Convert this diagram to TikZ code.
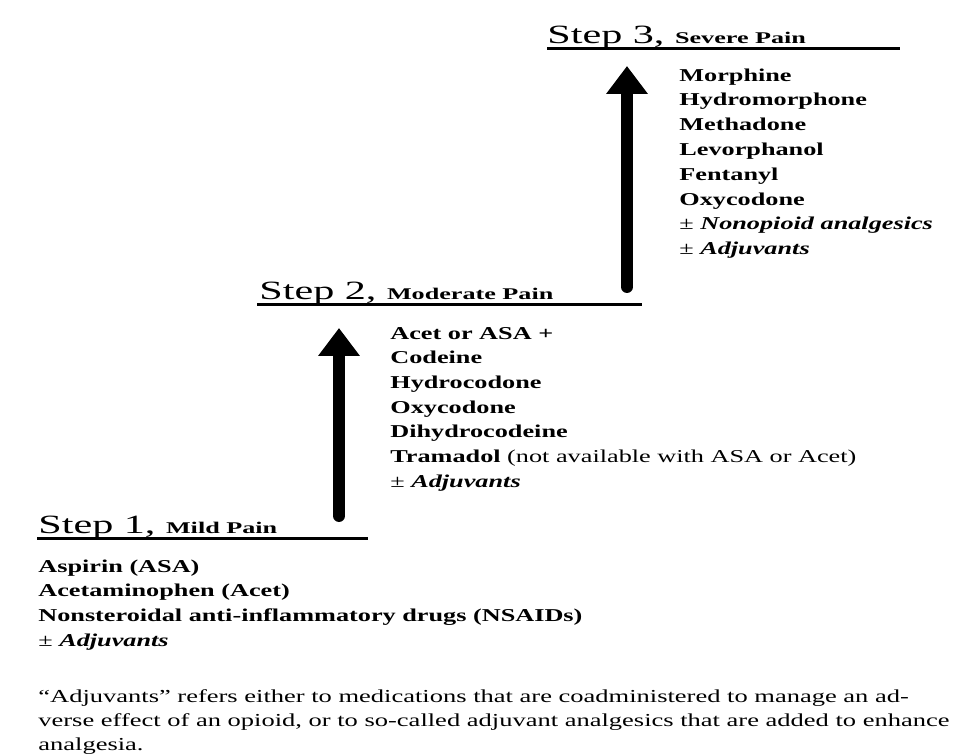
\documentclass[tikz,border=0pt]{standalone}
\usepackage{fontspec}
\setmainfont{Liberation Serif}
\newfontfamily\widefont[FakeStretch=1.45]{Liberation Serif}
\newfontfamily\stepfont[FakeStretch=1.6]{Liberation Serif}
\usetikzlibrary{arrows.meta}
\newcommand{\painlevel}[1]{{\bfseries\fontsize{9.3}{9.3}\selectfont #1}}
\newcommand{\plusadj}[1]{{\mdseries ±}~\textit{#1}}

\begin{document}
\begin{tikzpicture}[x=0.2mm,y=-0.2mm,
      head/.style={anchor=base west,inner sep=0pt,font=\stepfont\fontsize{15}{15}\selectfont},
      drug/.style={anchor=mid west,inner sep=0pt,font=\widefont\bfseries\fontsize{10.3}{12}\selectfont},
      rule/.style={line width=0.6mm},
      arr/.style={-{Triangle[width=8mm,length=5.6mm]},line width=2.4mm,line cap=round}
    ]
      \useasboundingbox (0,0) rectangle (962,756);

      % step 3
      \node[head] (s3) at (547,44) {Step 3, \painlevel{Severe Pain}};
      \draw[rule] (547,49) -- (900,49);
      \foreach \t [count=\i from 0] in {Morphine,Hydromorphone,Methadone,Levorphanol,Fentanyl,Oxycodone,{\plusadj{Nonopioid analgesics}},{\plusadj{Adjuvants}}} {
        \node[drug] (s3d\i) at (679,77+24.8*\i) {\t};
      }

      % step 2
      \node[head] (s2) at (259,300) {Step 2, \painlevel{Moderate Pain}};
      \draw[rule] (257,305) -- (642,305);
      \foreach \t [count=\i from 0] in {Acet or ASA +,Codeine,Hydrocodone,Oxycodone,Dihydrocodeine,{Tramadol {\mdseries (not available with ASA or Acet)}},{\plusadj{Adjuvants}}} {
        \node[drug] (s2d\i) at (390,335+24.7*\i) {\t};
      }

      % step 1
      \node[head] (s1) at (38,533) {Step 1, \painlevel{Mild Pain}};
      \draw[rule] (37,538) -- (368,538);
      \foreach \t [count=\i from 0] in {Aspirin (ASA),Acetaminophen (Acet),Nonsteroidal anti-inflammatory drugs (NSAIDs),{\plusadj{Adjuvants}}} {
        \node[drug] (s1d\i) at (38,568+24.7*\i) {\t};
      }

      % arrows
      \coordinate (a1s) at (339,516);
      \coordinate (a1e) at (339,328);
      \coordinate (a2s) at (627,287);
      \coordinate (a2e) at (627,66);
      \draw[arr] (a1s) -- (a1e);
      \draw[arr] (a2s) -- (a2e);

      % note (mid anchor sits on the last line)
      \node[anchor=mid west,inner sep=0pt,align=left,font=\widefont\fontsize{10.4}{13.6}\selectfont] (note) at (38,746)
        {“Adjuvants” refers either to medications that are coadministered to manage an ad-\\
         verse effect of an opioid, or to so-called adjuvant analgesics that are added to enhance\\
         analgesia.};
    \end{tikzpicture}
\end{document}
